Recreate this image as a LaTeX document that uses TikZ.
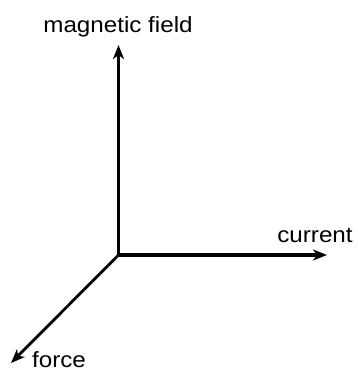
\documentclass[tikz,border=0pt]{standalone}
\usepackage{fontspec}
\usepackage{graphicx}
\setmainfont{Liberation Sans}
\usetikzlibrary{arrows.meta,positioning}
\newcommand{\widetext}[1]{\scalebox{1.1}[1]{#1}}

\begin{document}
\begin{tikzpicture}[x=1pt,y=-1pt,>={Stealth[length=14pt,width=11pt,inset=4pt]},
    axis/.style={->,line width=3.4pt},
    lbl/.style={inner sep=0pt,anchor=base,font=\fontsize{22}{26}\selectfont}]
    \useasboundingbox (0,0) rectangle (357,371);
    \coordinate (origin) at (118.5,255);
    \coordinate (fieldtip) at (118.5,45);
    \coordinate (currenttip) at (327,255);
    \coordinate (forcetip) at (11,363);
    \node[lbl] (field) at (118,33) {\widetext{magnetic field}};
    \node[lbl] (current) at (315,242) {\widetext{current}};
    \node[lbl] (force) at (59,367) {\widetext{force}};
    \draw[axis] (origin) -- (fieldtip);
    \draw[axis] (origin) -- (currenttip);
    \draw[axis,line width=2.8pt] (origin) -- (forcetip);
  \end{tikzpicture}
\end{document}
